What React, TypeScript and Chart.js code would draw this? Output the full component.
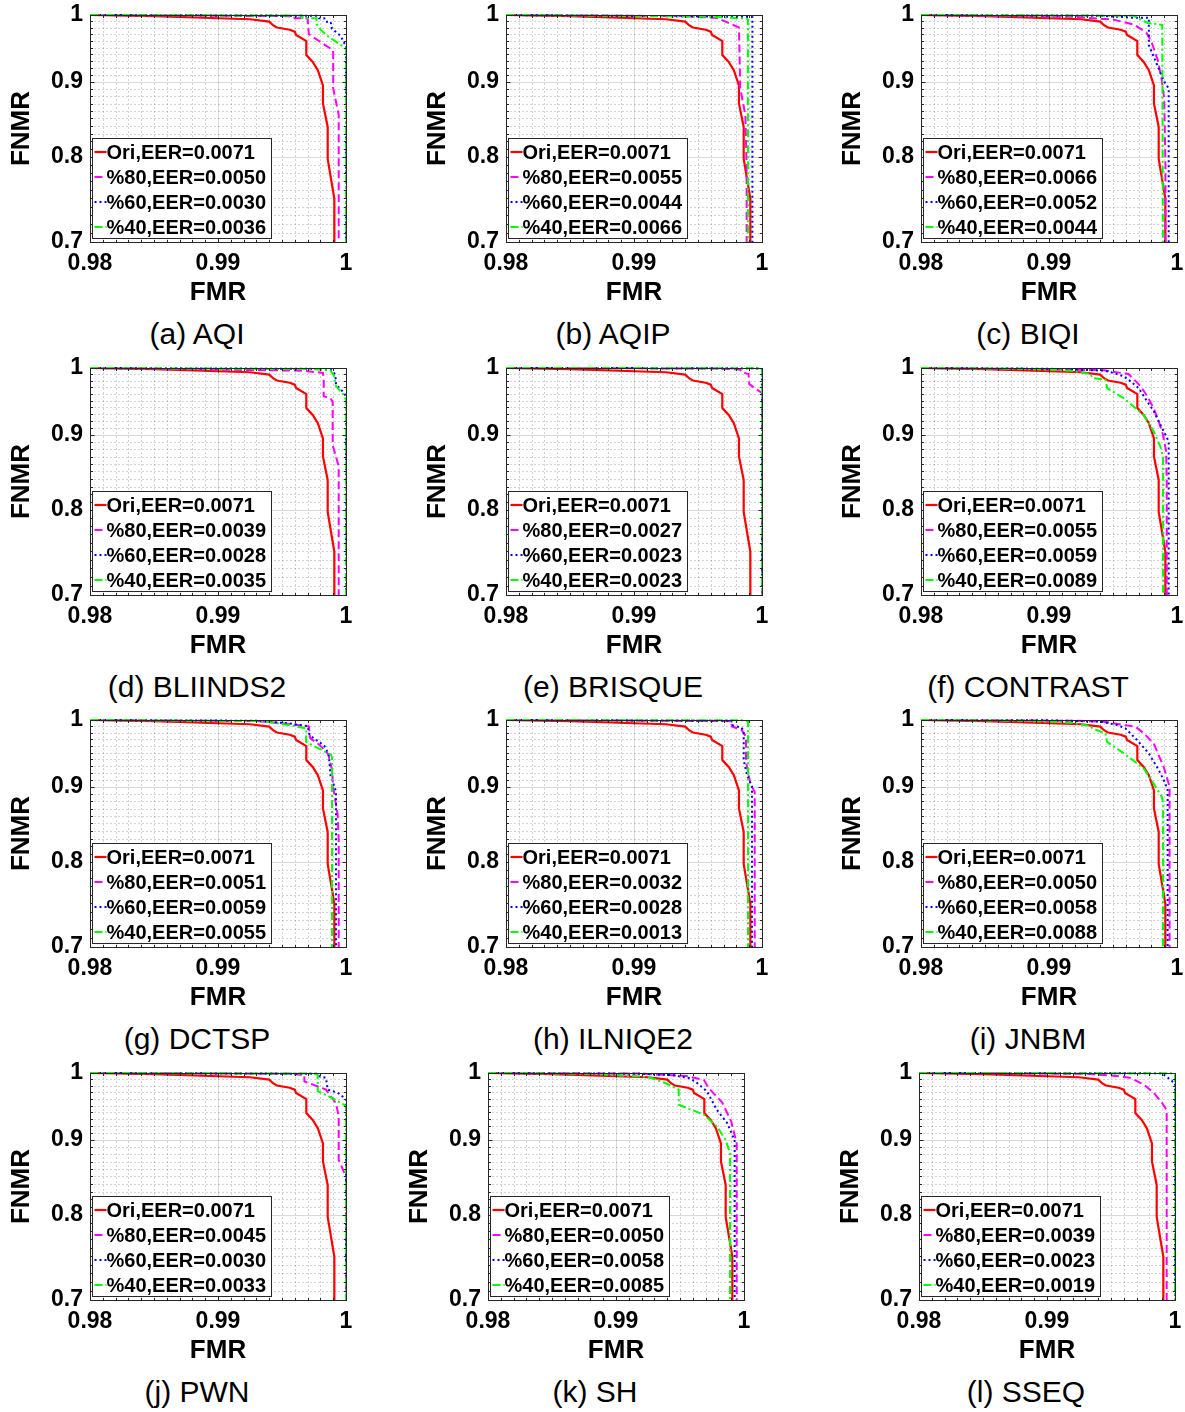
import React, { useEffect, useRef } from "react";
import { Chart, registerables } from "chart.js";

Chart.register(...registerables);

// ---------------- data ----------------
const X_MIN = 0.98;
const X_MAX = 1.0;
const Y_MIN = 0.7;
const Y_MAX = 1.0;
const X_TICKS = [0.98, 0.99, 1.0];
const X_TICK_LABELS = ["0.98", "0.99", "1"];
const Y_TICKS = [0.7, 0.8, 0.9, 1.0];
const Y_TICK_LABELS = ["0.7", "0.8", "0.9", "1"];
const X_MINOR_STEP = 0.001;
const Y_MINOR_STEP = 0.01;
const X_TITLE = "FMR";
const Y_TITLE = "FNMR";

const SERIES_NAMES = ["Ori", "%80", "%60", "%40"];

const CAPTIONS = [
  "(a) AQI", "(b) AQIP", "(c) BIQI",
  "(d) BLIINDS2", "(e) BRISQUE", "(f) CONTRAST",
  "(g) DCTSP", "(h) ILNIQE2", "(i) JNBM",
  "(j) PWN", "(k) SH", "(l) SSEQ",
];

const EER_AQI = ["0.0071", "0.0050", "0.0030", "0.0036"];
const EER_AQIP = ["0.0071", "0.0055", "0.0044", "0.0066"];
const EER_BIQI = ["0.0071", "0.0066", "0.0052", "0.0044"];
const EER_BLIINDS2 = ["0.0071", "0.0039", "0.0028", "0.0035"];
const EER_BRISQUE = ["0.0071", "0.0027", "0.0023", "0.0023"];
const EER_CONTRAST = ["0.0071", "0.0055", "0.0059", "0.0089"];
const EER_DCTSP = ["0.0071", "0.0051", "0.0059", "0.0055"];
const EER_ILNIQE2 = ["0.0071", "0.0032", "0.0028", "0.0013"];
const EER_JNBM = ["0.0071", "0.0050", "0.0058", "0.0088"];
const EER_PWN = ["0.0071", "0.0045", "0.0030", "0.0033"];
const EER_SH = ["0.0071", "0.0050", "0.0058", "0.0085"];
const EER_SSEQ = ["0.0071", "0.0039", "0.0023", "0.0019"];

type Pt = [number, number];

const ORI: Pt[] = [[0.98, 1], [0.985, 0.99822], [0.99, 0.9949], [0.9925, 0.99336], [0.994, 0.98959], [0.9943, 0.98407], [0.9946, 0.98058], [0.9956, 0.97709], [0.996, 0.97419], [0.9961, 0.96899], [0.9969, 0.95983], [0.9969, 0.93896], [0.9974, 0.92898], [0.9978, 0.91691], [0.9982, 0.89538], [0.9982, 0.8702], [0.99857, 0.83872], [0.99857, 0.79775], [0.99909, 0.74913], [0.99909, 0.7]];

const AQI_80: Pt[] = [[0.98, 1], [0.9955, 0.99822], [0.9958, 0.99478], [0.997, 0.99478], [0.9971, 0.97014], [0.9988, 0.9485], [0.999, 0.94625], [0.999, 0.89113], [0.99943, 0.85482], [0.99943, 0.7]];
const AQI_60: Pt[] = [[0.98, 1], [0.9978, 0.99881], [0.9979, 0.99478], [0.9983, 0.99478], [0.9984, 0.98935], [0.9988, 0.98935], [0.9989, 0.97883], [0.9996, 0.96727], [0.99985, 0.95699], [1.0, 0.95358], [1.0, 0.7]];
const AQI_40: Pt[] = [[0.98, 1], [0.9966, 0.99905], [0.9966, 0.99478], [0.9977, 0.99478], [0.9977, 0.98583], [0.998, 0.97767], [0.9985, 0.96842], [0.9998, 0.95132], [1.0, 0.94794], [1.0, 0.7]];

const AQIP_80: Pt[] = [[0.98, 1], [0.994, 0.99822], [0.9965, 0.99525], [0.9982, 0.98058], [0.9983, 0.89113], [0.9987, 0.85482], [0.9988, 0.78832], [0.9988, 0.7]];
const AQIP_60: Pt[] = [[0.98, 1], [0.9965, 0.99762], [0.99925, 0.99668], [0.99925, 0.7]];
const AQIP_40: Pt[] = [[0.98, 1], [0.9955, 0.99762], [0.9988, 0.99466], [0.9989, 0.99289], [0.9989, 0.7]];

const BIQI_80: Pt[] = [[0.98, 1], [0.992, 0.99703], [0.995, 0.99289], [0.9966, 0.98525], [0.9976, 0.97303], [0.998, 0.95926], [0.9985, 0.93119], [0.9988, 0.90394], [0.999, 0.87747], [0.9991, 0.78832], [0.9991, 0.7]];
const BIQI_60: Pt[] = [[0.98, 1], [0.994, 0.99881], [0.9965, 0.99585], [0.9978, 0.99585], [0.9978, 0.98443], [0.9978, 0.95358], [0.999, 0.90072], [0.99935, 0.89113], [0.99935, 0.7]];
const BIQI_40: Pt[] = [[0.98, 1], [0.9966, 0.99881], [0.9977, 0.98759], [0.99885, 0.98466], [0.9989, 0.7]];

const BLIINDS2_80: Pt[] = [[0.98, 1], [0.9966, 0.99585], [0.9982, 0.9923], [0.99826, 0.98443], [0.99826, 0.95642], [0.9988, 0.95358], [0.99896, 0.94794], [0.99896, 0.88585], [0.99943, 0.85686], [0.99943, 0.7]];
const BLIINDS2_60: Pt[] = [[0.98, 1], [0.998, 0.99857], [0.9989, 0.99644], [0.99917, 0.98935], [0.99922, 0.97419], [0.99974, 0.96383], [1.0, 0.95642], [1.0, 0.7]];
const BLIINDS2_40: Pt[] = [[0.98, 1], [0.9975, 0.99822], [0.9988, 0.99585], [0.9991, 0.98701], [0.99922, 0.97188], [0.99975, 0.9604], [1.0, 0.95132], [1.0, 0.7]];

const BRISQUE_80: Pt[] = [[0.98, 1], [0.9965, 0.99917], [0.9983, 0.99762], [0.9984, 0.99348], [0.99895, 0.99053], [0.999, 0.97535], [0.99948, 0.96795], [1.0, 0.96154], [1.0, 0.7]];
const BRISQUE_60: Pt[] = [[0.98, 1], [0.9995, 0.99964], [1.0, 0.99762], [1.0, 0.7]];
const BRISQUE_40: Pt[] = [[0.98, 1], [0.9997, 0.99964], [1.0, 0.99762], [1.0, 0.7]];

const CONTRAST_80: Pt[] = [[0.98, 1], [0.99, 0.99822], [0.9943, 0.99644], [0.9962, 0.99053], [0.9966, 0.98291], [0.9972, 0.97072], [0.9977, 0.95585], [0.9982, 0.93785], [0.9986, 0.918], [0.9989, 0.90072], [0.99915, 0.87747], [0.9992, 0.83673], [0.9992, 0.7]];
const CONTRAST_60: Pt[] = [[0.98, 1], [0.99, 0.99881], [0.99429, 0.99585], [0.99506, 0.99218], [0.99584, 0.98701], [0.99636, 0.97929], [0.997, 0.96899], [0.99766, 0.94906], [0.99818, 0.93451], [0.9987, 0.91473], [0.99909, 0.90072], [0.99935, 0.89113], [0.99935, 0.7]];
const CONTRAST_40: Pt[] = [[0.98, 1], [0.988, 0.99881], [0.99169, 0.99585], [0.99325, 0.99053], [0.99338, 0.98443], [0.99441, 0.98186], [0.99454, 0.96899], [0.99584, 0.95358], [0.9974, 0.92898], [0.99818, 0.90501], [0.9987, 0.88375], [0.99891, 0.8702], [0.99891, 0.7]];

const DCTSP_80: Pt[] = [[0.98, 1], [0.993, 0.99822], [0.9946, 0.99585], [0.9971, 0.98994], [0.9972, 0.97188], [0.998, 0.9604], [0.9986, 0.94794], [0.9989, 0.92567], [0.999, 0.89858], [0.99935, 0.86197], [0.99943, 0.82684], [0.99943, 0.7]];
const DCTSP_60: Pt[] = [[0.98, 1], [0.993, 0.99881], [0.9955, 0.99478], [0.997, 0.99053], [0.99715, 0.97651], [0.9983, 0.9604], [0.99865, 0.94794], [0.9988, 0.91473], [0.9991, 0.90072], [0.99922, 0.89325], [0.99922, 0.7]];
const DCTSP_40: Pt[] = [[0.98, 1], [0.9935, 0.99822], [0.9955, 0.9923], [0.9969, 0.98701], [0.99688, 0.96612], [0.99883, 0.94681], [0.99891, 0.94232], [0.99891, 0.7]];

const ILNIQE2_80: Pt[] = [[0.98, 1], [0.9976, 0.99822], [0.99765, 0.98994], [0.9984, 0.98466], [0.99875, 0.97419], [0.99875, 0.93673], [0.9991, 0.90394], [0.99943, 0.89325], [0.99943, 0.7]];
const ILNIQE2_60: Pt[] = [[0.98, 1], [0.9976, 0.99881], [0.99765, 0.99171], [0.9984, 0.98818], [0.99857, 0.98232], [0.99857, 0.93896], [0.99883, 0.91691], [0.99922, 0.90072], [0.99922, 0.7]];
const ILNIQE2_40: Pt[] = [[0.98, 1], [0.9987, 0.99941], [0.99891, 0.99762], [0.99891, 0.7]];

const JNBM_80: Pt[] = [[0.98, 1], [0.992, 0.99881], [0.99429, 0.99739], [0.99584, 0.99218], [0.99675, 0.98959], [0.9974, 0.97929], [0.99818, 0.96383], [0.99896, 0.92898], [0.99942, 0.90072], [0.99942, 0.7]];
const JNBM_60: Pt[] = [[0.98, 1], [0.99, 0.99941], [0.994, 0.99762], [0.99532, 0.99218], [0.99597, 0.98701], [0.99688, 0.96899], [0.99779, 0.94906], [0.99857, 0.92457], [0.99909, 0.90501], [0.99927, 0.89538], [0.99927, 0.7]];
const JNBM_40: Pt[] = [[0.98, 1], [0.988, 0.99881], [0.99169, 0.99585], [0.99325, 0.99053], [0.99338, 0.98701], [0.99441, 0.97929], [0.99454, 0.96612], [0.99584, 0.94906], [0.9974, 0.92677], [0.99818, 0.90501], [0.99883, 0.88585], [0.99891, 0.87747], [0.99891, 0.7]];

const PWN_80: Pt[] = [[0.98, 1], [0.9955, 0.99881], [0.99675, 0.99703], [0.99675, 0.98701], [0.99844, 0.97419], [0.99922, 0.95358], [0.99943, 0.93406], [0.99943, 0.87227], [0.99987, 0.85482], [1.0, 0.85177], [1.0, 0.7]];
const PWN_60: Pt[] = [[0.98, 1], [0.9978, 0.99881], [0.99792, 0.99478], [0.99844, 0.99218], [0.99857, 0.97419], [0.99935, 0.96956], [0.99987, 0.96154], [1.0, 0.95926], [1.0, 0.7]];
const PWN_40: Pt[] = [[0.98, 1], [0.9975, 0.99905], [0.99779, 0.99703], [0.99779, 0.97188], [0.99844, 0.96612], [0.99987, 0.95132], [1.0, 0.94906], [1.0, 0.7]];

const SH_80: Pt[] = [[0.98, 1], [0.992, 0.99905], [0.9955, 0.99525], [0.99686, 0.98935], [0.99725, 0.97651], [0.9983, 0.95472], [0.999, 0.92677], [0.99943, 0.89538], [0.99943, 0.7]];
const SH_60: Pt[] = [[0.98, 1], [0.992, 0.99881], [0.9945, 0.99644], [0.99567, 0.99218], [0.99619, 0.98701], [0.99711, 0.97153], [0.99789, 0.94344], [0.99868, 0.92457], [0.99896, 0.91256], [0.99927, 0.89858], [0.99927, 0.7]];
const SH_40: Pt[] = [[0.98, 1], [0.988, 0.99881], [0.99254, 0.99372], [0.99386, 0.98443], [0.9949, 0.97419], [0.9949, 0.95132], [0.99686, 0.93673], [0.9979, 0.91909], [0.99855, 0.90072], [0.99891, 0.88165], [0.99891, 0.7]];

const SSEQ_80: Pt[] = [[0.98, 1], [0.993, 0.99881], [0.99576, 0.99478], [0.99654, 0.99218], [0.99758, 0.98186], [0.99836, 0.96899], [0.99901, 0.95358], [0.99935, 0.94344], [0.99935, 0.7]];
const SSEQ_60: Pt[] = [[0.98, 1], [0.999, 0.99941], [0.9994, 0.99348], [0.99979, 0.98701], [1.0, 0.98466], [1.0, 0.7]];
const SSEQ_40: Pt[] = [[0.98, 1], [0.9998, 0.99964], [1.0, 0.99762], [1.0, 0.7]];

const PANEL_SERIES: Pt[][][] = [
  [ORI, AQI_80, AQI_60, AQI_40],
  [ORI, AQIP_80, AQIP_60, AQIP_40],
  [ORI, BIQI_80, BIQI_60, BIQI_40],
  [ORI, BLIINDS2_80, BLIINDS2_60, BLIINDS2_40],
  [ORI, BRISQUE_80, BRISQUE_60, BRISQUE_40],
  [ORI, CONTRAST_80, CONTRAST_60, CONTRAST_40],
  [ORI, DCTSP_80, DCTSP_60, DCTSP_40],
  [ORI, ILNIQE2_80, ILNIQE2_60, ILNIQE2_40],
  [ORI, JNBM_80, JNBM_60, JNBM_40],
  [ORI, PWN_80, PWN_60, PWN_40],
  [ORI, SH_80, SH_60, SH_40],
  [ORI, SSEQ_80, SSEQ_60, SSEQ_40],
];
const PANEL_EER = [
  EER_AQI, EER_AQIP, EER_BIQI, EER_BLIINDS2, EER_BRISQUE, EER_CONTRAST,
  EER_DCTSP, EER_ILNIQE2, EER_JNBM, EER_PWN, EER_SH, EER_SSEQ,
];

// ---------------- layout & style ----------------
const PLOT_LEFT = [90, 506, 921, 90, 506, 921, 90, 506, 921, 90, 488, 919];
const PLOT_TOP = [15, 15, 15, 368, 368, 368, 720, 720, 720, 1073, 1073, 1073];
const PLOT_W = 256;
const PLOT_H = 227;
const PAD_LEFT = 88;
const PAD_TOP = 15;
const PAD_RIGHT = 8;
const PAD_BOTTOM = 72;
const CW = PAD_LEFT + PLOT_W + PAD_RIGHT;
const CH = PAD_TOP + PLOT_H + PAD_BOTTOM;

const FONT = '"Liberation Sans", Arial, Helvetica, sans-serif';
const STYLES = [
  { color: "#ff0000", width: 2.2, dash: [] as number[] },
  { color: "#ff00ff", width: 2, dash: [8, 4] },
  { color: "#0000ff", width: 2, dash: [2, 3] },
  { color: "#00ff00", width: 2, dash: [8, 3, 2, 3] },
];

function crisp(v: number) {
  return Math.round(v) + 0.5;
}

const gridPlugin = {
  id: "matlabGrid",
  beforeDatasetsDraw(chart: any) {
    const { ctx, chartArea: a, scales } = chart;
    const xs = scales.x;
    const ys = scales.y;
    ctx.save();
    ctx.lineWidth = 1;
    const nx = Math.round((X_MAX - X_MIN) / X_MINOR_STEP);
    const ny = Math.round((Y_MAX - Y_MIN) / Y_MINOR_STEP);
    ctx.strokeStyle = "rgba(0,0,0,0.17)";
    ctx.setLineDash([2, 2]);
    ctx.beginPath();
    for (let i = 1; i < nx; i++) {
      if (i % 10 === 0) continue;
      const px = crisp(xs.getPixelForValue(X_MIN + i * X_MINOR_STEP));
      ctx.moveTo(px, a.top);
      ctx.lineTo(px, a.bottom);
    }
    for (let j = 1; j < ny; j++) {
      if (j % 10 === 0) continue;
      const py = crisp(ys.getPixelForValue(Y_MIN + j * Y_MINOR_STEP));
      ctx.moveTo(a.left, py);
      ctx.lineTo(a.right, py);
    }
    ctx.stroke();
    ctx.setLineDash([]);
    ctx.strokeStyle = "rgba(0,0,0,0.15)";
    ctx.beginPath();
    X_TICKS.forEach((v) => {
      const px = crisp(xs.getPixelForValue(v));
      ctx.moveTo(px, a.top);
      ctx.lineTo(px, a.bottom);
    });
    Y_TICKS.forEach((v) => {
      const py = crisp(ys.getPixelForValue(v));
      ctx.moveTo(a.left, py);
      ctx.lineTo(a.right, py);
    });
    ctx.stroke();
    ctx.restore();
  },
  afterDatasetsDraw(chart: any) {
    const { ctx, chartArea: a, scales } = chart;
    const xs = scales.x;
    const ys = scales.y;
    ctx.save();
    ctx.strokeStyle = "#262626";
    ctx.lineWidth = 1;
    ctx.setLineDash([]);
    const l = crisp(a.left), r = crisp(a.right), t = crisp(a.top), b = crisp(a.bottom);
    ctx.strokeRect(l, t, r - l, b - t);
    const nx = Math.round((X_MAX - X_MIN) / X_MINOR_STEP);
    const ny = Math.round((Y_MAX - Y_MIN) / Y_MINOR_STEP);
    ctx.beginPath();
    for (let i = 1; i < nx; i++) {
      const px = crisp(xs.getPixelForValue(X_MIN + i * X_MINOR_STEP));
      const len = i % 10 === 0 ? 4 : 2.5;
      ctx.moveTo(px, b);
      ctx.lineTo(px, b - len);
      ctx.moveTo(px, t);
      ctx.lineTo(px, t + len);
    }
    for (let j = 1; j < ny; j++) {
      const py = crisp(ys.getPixelForValue(Y_MIN + j * Y_MINOR_STEP));
      const len = j % 10 === 0 ? 4 : 2.5;
      ctx.moveTo(l, py);
      ctx.lineTo(l + len, py);
      ctx.moveTo(r, py);
      ctx.lineTo(r - len, py);
    }
    ctx.stroke();
    ctx.restore();
  },
};

function makeLegendPlugin(labels: string[]) {
  return {
    id: "matlabLegend",
    afterDraw(chart: any) {
      const { ctx, chartArea: a } = chart;
      ctx.save();
      ctx.font = `bold 20px ${FONT}`;
      const tw = Math.max(...labels.map((t) => ctx.measureText(t).width));
      const bh = 100;
      const bx = crisp(a.left + 2);
      const by = crisp(a.bottom - 4 - bh);
      const bw = Math.round(14 + tw + 5);
      ctx.fillStyle = "#ffffff";
      ctx.fillRect(bx, by, bw, bh);
      ctx.strokeStyle = "#262626";
      ctx.lineWidth = 1;
      ctx.strokeRect(bx, by, bw, bh);
      labels.forEach((t, i) => {
        const cy = by + 13.5 + 25 * i;
        const s = STYLES[i];
        ctx.strokeStyle = s.color;
        ctx.lineWidth = s.width;
        ctx.setLineDash(s.dash);
        ctx.beginPath();
        ctx.moveTo(bx + 2, cy);
        ctx.lineTo(bx + 14, cy);
        ctx.stroke();
        ctx.setLineDash([]);
        ctx.fillStyle = "#000";
        ctx.textAlign = "left";
        ctx.textBaseline = "middle";
        ctx.fillText(t, bx + 14, cy + 1);
      });
      ctx.restore();
    },
  };
}

function labelFor(ticks: number[], labels: string[], v: number) {
  let best = 0;
  ticks.forEach((t, i) => {
    if (Math.abs(t - v) < Math.abs(ticks[best] - v)) best = i;
  });
  return labels[best];
}

function Panel({ idx }: { idx: number }) {
  const ref = useRef<HTMLCanvasElement>(null);
  useEffect(() => {
    const series = PANEL_SERIES[idx];
    const legendLabels = SERIES_NAMES.map((n, i) => `${n},EER=${PANEL_EER[idx][i]}`);
    const chart = new Chart(ref.current as HTMLCanvasElement, {
      type: "scatter",
      data: {
        datasets: series.map((pts, i) => ({
          label: legendLabels[i],
          data: pts.map(([x, y]) => ({ x, y })),
          showLine: true,
          borderColor: STYLES[i].color,
          backgroundColor: STYLES[i].color,
          borderWidth: STYLES[i].width,
          borderDash: STYLES[i].dash,
          pointRadius: 0,
          pointHoverRadius: 0,
          tension: 0,
          fill: false,
          order: 3 - i,
          clip: 4,
        })),
      } as any,
      options: {
        responsive: false,
        animation: false,
        devicePixelRatio: 1,
        events: [],
        layout: { padding: { top: PAD_TOP, right: PAD_RIGHT, left: 0, bottom: 0 } },
        plugins: { legend: { display: false }, tooltip: { enabled: false } },
        scales: {
          x: {
            type: "linear",
            position: "bottom",
            min: X_MIN,
            max: X_MAX,
            grid: { display: false, drawTicks: false },
            border: { display: false },
            afterBuildTicks: (s: any) => {
              s.ticks = X_TICKS.map((v) => ({ value: v }));
            },
            afterFit: (s: any) => {
              s.height = PAD_BOTTOM;
              s.paddingLeft = 0;
              s.paddingRight = 0;
              s.paddingTop = 0;
              s.paddingBottom = 0;
            },
            ticks: {
              autoSkip: false,
              maxRotation: 0,
              minRotation: 0,
              padding: 8,
              color: "#000",
              font: { family: FONT, size: 23, weight: "bold" },
              callback: (v: any) => labelFor(X_TICKS, X_TICK_LABELS, Number(v)),
            },
            title: {
              display: true,
              text: X_TITLE,
              color: "#000",
              font: { family: FONT, size: 26, weight: "bold" },
              padding: { top: 0, bottom: 5.4 },
            },
          },
          y: {
            type: "logarithmic",
            position: "left",
            min: Y_MIN,
            max: Y_MAX,
            grid: { display: false, drawTicks: false },
            border: { display: false },
            afterBuildTicks: (s: any) => {
              s.ticks = Y_TICKS.map((v) => ({ value: v }));
            },
            afterFit: (s: any) => {
              s.width = PAD_LEFT;
              s.paddingLeft = 0;
              s.paddingRight = 0;
              s.paddingTop = 0;
              s.paddingBottom = 0;
            },
            ticks: {
              autoSkip: false,
              padding: 7,
              color: "#000",
              font: { family: FONT, size: 23, weight: "bold" },
              callback: (v: any) => labelFor(Y_TICKS, Y_TICK_LABELS, Number(v)),
            },
            title: {
              display: true,
              text: Y_TITLE,
              color: "#000",
              font: { family: FONT, size: 26, weight: "bold" },
              padding: { top: 4.4, bottom: 0 },
            },
          },
        },
      } as any,
      plugins: [gridPlugin, makeLegendPlugin(legendLabels)],
    });
    return () => chart.destroy();
  }, [idx]);

  const L = PLOT_LEFT[idx];
  const T = PLOT_TOP[idx];
  return (
    <>
      <canvas
        ref={ref}
        width={CW}
        height={CH}
        style={{ position: "absolute", left: L - PAD_LEFT, top: T - PAD_TOP, width: CW, height: CH }}
      />
      <div
        style={{
          position: "absolute",
          left: L + 107 - 160,
          width: 320,
          top: T + 319 - 18,
          height: 36,
          lineHeight: "36px",
          textAlign: "center",
          fontFamily: FONT,
          fontSize: 30,
          color: "#000",
          whiteSpace: "nowrap",
        }}
      >
        {CAPTIONS[idx]}
      </div>
    </>
  );
}

export default function App() {
  return (
    <div
      style={{
        position: "absolute",
        left: 0,
        top: 0,
        width: 1185,
        height: 1412,
        overflow: "hidden",
        background: "#fff",
      }}
    >
      {CAPTIONS.map((_, i) => (
        <Panel key={i} idx={i} />
      ))}
    </div>
  );
}
